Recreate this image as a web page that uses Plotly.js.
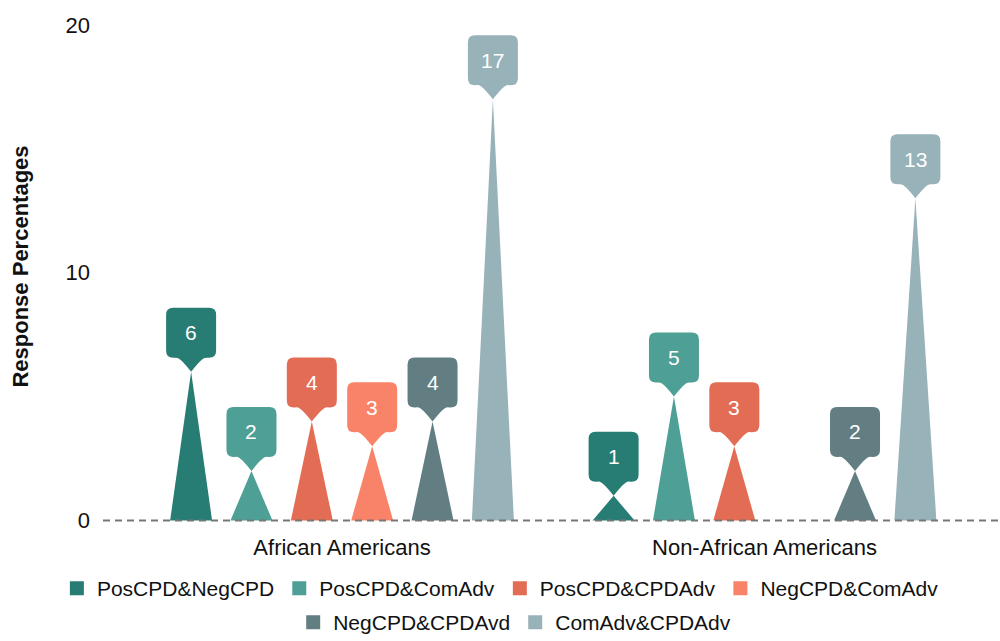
<!DOCTYPE html>
<html>
<head>
<meta charset="utf-8">
<script src="https://cdn.plot.ly/plotly-3.0.1.min.js"></script>
<style>html,body{margin:0;padding:0;background:#fff;}#chart{width:1000px;height:641px;}</style>
</head>
<body>
<div id="chart"></div>
<script>
// ---- data ----
var categories = ["African Americans", "Non-African Americans"];
var seriesNames = ["PosCPD&NegCPD", "PosCPD&ComAdv", "PosCPD&CPDAdv", "NegCPD&ComAdv", "NegCPD&CPDAvd", "ComAdv&CPDAdv"];
var posNeg   = [6, 1];
var posCom   = [2, 5];
var posCpd   = [4, 3];
var negCom   = [3, null];
var negCpd   = [4, 2];
var comCpd   = [17, 13];
var yTickVals = [0, 10, 20];
var yTickText = ["0", "10", "20"];
var colors = ["#277d73", "#4e9f96", "#e36c55", "#f98369", "#627e82", "#97b2b8"];

var seriesValues = [posNeg, posCom, posCpd, negCom, negCpd, comCpd];

// ---- layout helpers ----
var slot = 1 / 7;          // spacing between spikes inside a group (category units)
var halfBase = 0.0497;     // half width of spike base (category units)
var FONT = "Liberation Sans, Arial, sans-serif";

var traces = [];
var shapes = [];
var annotations = [];

// legend proxies (first row in legend, second row in legend2)
seriesNames.forEach(function (name, s) {
  traces.push({
    type: "bar", x: [null], y: [null], name: name, legendgroup: name,
    legend: s < 4 ? "legend" : "legend2",
    marker: {color: colors[s], line: {color: colors[s], width: 2}},
    showlegend: true, hoverinfo: "skip"
  });
});

// dashed baseline
shapes.push({
  type: "line", xref: "paper", x0: 0, x1: 1, yref: "y", y0: 0, y1: 0,
  line: {color: "#777777", width: 2, dash: "7px,5px"}, layer: "above"
});

var calloutPath = "M0,0 C-4,5 -8,10 -12,13 Q-14,14.5 -17,14 L-18,14 Q-25,14 -25,21 L-25,57 Q-25,64 -18,64 L18,64 Q25,64 25,57 L25,21 Q25,14 18,14 L17,14 Q14,14.5 12,13 C8,10 4,5 0,0 Z";

seriesNames.forEach(function (name, s) {
  var vals = seriesValues[s];
  categories.forEach(function (cat, c) {
    var v = vals[c];
    if (v === null || v === undefined) return;
    var xc = c + (s - 2.5) * slot;
    traces.push({
      type: "scatter", mode: "lines", fill: "toself",
      x: [xc - halfBase, xc, xc + halfBase, xc - halfBase],
      y: [0, v, 0, 0],
      fillcolor: colors[s], line: {width: 0, color: colors[s]},
      legendgroup: name, showlegend: false, hoverinfo: "skip", name: name
    });
    shapes.push({
      type: "path", xref: "x", yref: "y",
      xsizemode: "pixel", ysizemode: "pixel", xanchor: xc, yanchor: v,
      path: calloutPath, fillcolor: colors[s], line: {width: 0}, layer: "above"
    });
    annotations.push({
      x: xc, y: v, xref: "x", yref: "y", text: String(v), showarrow: false,
      yshift: 39, font: {family: FONT, size: 21, color: "#ffffff"}
    });
  });
});

var layout = {
  width: 1000, height: 641,
  margin: {l: 103, r: 2, t: 10, b: 118, autoexpand: false},
  paper_bgcolor: "#ffffff", plot_bgcolor: "#ffffff",
  font: {family: FONT, color: "#111111", size: 21},
  showlegend: true,
  legend: {
    orientation: "h", x: 0.444, xanchor: "center", y: -0.088, yanchor: "top",
    font: {size: 21, color: "#111111"}, itemclick: false
  },
  legend2: {
    orientation: "h", x: 0.46, xanchor: "center", y: -0.154, yanchor: "top",
    font: {size: 21, color: "#111111"}, itemclick: false
  },
  xaxis: {
    type: "linear", range: [-0.5657, 1.5527],
    tickvals: [0, 1], ticktext: categories,
    showgrid: false, zeroline: false, showline: false, ticks: "",
    ticklabelstandoff: 9,
    tickfont: {size: 22, color: "#111111"}, fixedrange: true
  },
  yaxis: {
    range: [-0.1, 20.6],
    tickvals: yTickVals, ticktext: yTickText,
    showgrid: false, zeroline: false, showline: false, ticks: "",
    ticklabelstandoff: 12,
    tickfont: {size: 22, color: "#111111"},
    title: {text: "Response Percentages", standoff: 30, font: {size: 22, color: "#111111", family: FONT, weight: "bold"}},
    fixedrange: true
  },
  shapes: shapes,
  annotations: annotations
};

Plotly.newPlot("chart", traces, layout, {displayModeBar: false, staticPlot: true});
</script>
</body>
</html>
